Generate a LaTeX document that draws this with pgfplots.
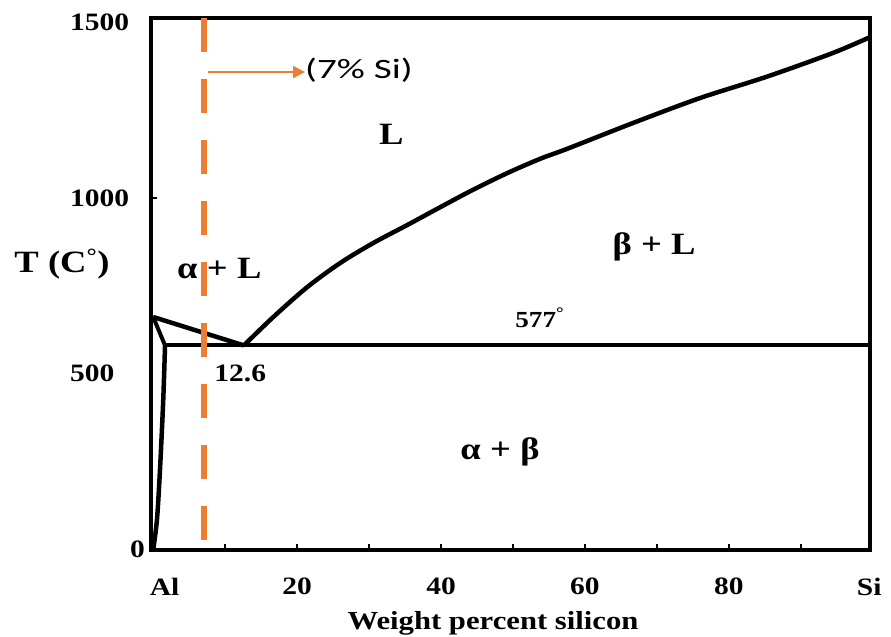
\documentclass[border=0pt]{standalone}
\usepackage{fontspec}
\setmainfont[FakeStretch=1.18]{Liberation Serif}
\newfontfamily\calib[FakeStretch=1.4]{Carlito}
\usepackage{pgfplots}
\pgfplotsset{compat=1.18}
\usetikzlibrary{arrows.meta}
\definecolor{sorange}{RGB}{237,125,49}
\begin{document}
\begin{tikzpicture}
\useasboundingbox (-151bp,-87bp) rectangle (740bp,550bp);
\begin{axis}[
  at={(0,0)}, anchor=south west,
  scale only axis, width=719bp, height=532bp,
  xmin=-0.3, xmax=99.6, ymin=-3, ymax=1513,
  axis line style={line width=4.5bp, line cap=rect},
  tick pos=left,
  tick align=inside,
  xtick={1.6,20,40,60,80,99.5}, xticklabels={Al,20,40,60,80,Si},
  ytick={0,500,1000,1500}, yticklabels={\hspace*{60bp}0,500,1000,1500},
  major tick length=0pt,
  minor xtick={10,20,30,40,50,60,70,80,90}, minor ytick={1000},
  minor tick length=6bp,
  tick style={line width=2.5bp, black},
  tick label style={font=\fontsize{25bp}{30bp}\selectfont\bfseries, inner sep=0pt},
  xticklabel style={anchor=north, yshift=-28bp},
  yticklabel style={anchor=west, xshift=-81bp},
  /pgf/number format/assume math mode=true,
  xlabel={Weight percent silicon},
  xlabel style={at={(axis description cs:0.4757,-0.1147)}, anchor=north, inner sep=0pt, font=\fontsize{26bp}{30bp}\selectfont\bfseries},
  ylabel={T (C\textsuperscript{°})},
  ylabel style={at={(axis description cs:-0.1238,0.5376)}, rotate=-90, anchor=center, inner sep=0pt, font=\fontsize{31bp}{36bp}\selectfont\bfseries},
]
% liquidus (Si side)
\addplot[black, line width=4.5bp, line join=round, smooth, tension=0.5] coordinates {
 (12.6,580) (16.7,661) (21.4,746) (26.0,815) (30.6,872) (35.3,923) (39.9,974)
 (44.4,1023) (49.2,1071) (53.8,1112) (57.5,1140) (66.7,1214) (76.0,1285)
 (85.3,1346) (94.4,1413) (100,1462)};
% eutectic line
\addplot[black, line width=4bp] coordinates {(1.65,580) (100,580)};
% liquidus (Al side)
\addplot[black, line width=4.5bp] coordinates {(0,661) (12.6,580)};
% solidus
\addplot[black, line width=4bp] coordinates {(0,661) (1.65,580)};
% solvus
\addplot[black, line width=4.5bp, line join=round, smooth, tension=0.5] coordinates {
 (1.65,580) (1.4,424) (0.97,234) (0.56,91) (0.14,17) (0,0)};
% 7% Si dashed line
\addplot[sorange, line width=6bp, dash pattern=on 34bp off 27bp] coordinates {(7,1513) (7,20)};
\draw[sorange, line width=2bp, -{Triangle[length=12bp,width=12bp]}] (axis cs:7.6,1359) -- (axis cs:21.1,1359);
\node[anchor=west, inner sep=0pt, font=\calib\fontsize{28bp}{32bp}\selectfont] at (axis cs:21.1,1365) {(7\% Si)};
% region labels
\begin{scope}[every node/.style={inner sep=0pt, font=\fontsize{31bp}{36bp}\selectfont\bfseries}]
\node at (axis cs:33.1,1182) {L};
\node at (axis cs:69.6,860) {β\hspace{0.3em}+\hspace{0.3em}L};
\node at (axis cs:9.2,800) {α\hspace{0.3em}+\hspace{0.3em}L};
\node at (axis cs:48.2,276) {α\hspace{0.3em}+\hspace{0.3em}β};
\end{scope}
\node[anchor=base west, inner sep=0pt, font=\fontsize{23bp}{28bp}\selectfont\bfseries] at (axis cs:50.3,630) {577\textsuperscript{°}};
\node[inner sep=0pt, font=\fontsize{25bp}{30bp}\selectfont\bfseries] at (axis cs:12.1,499) {12.6};
\end{axis}
\end{tikzpicture}
\end{document}
